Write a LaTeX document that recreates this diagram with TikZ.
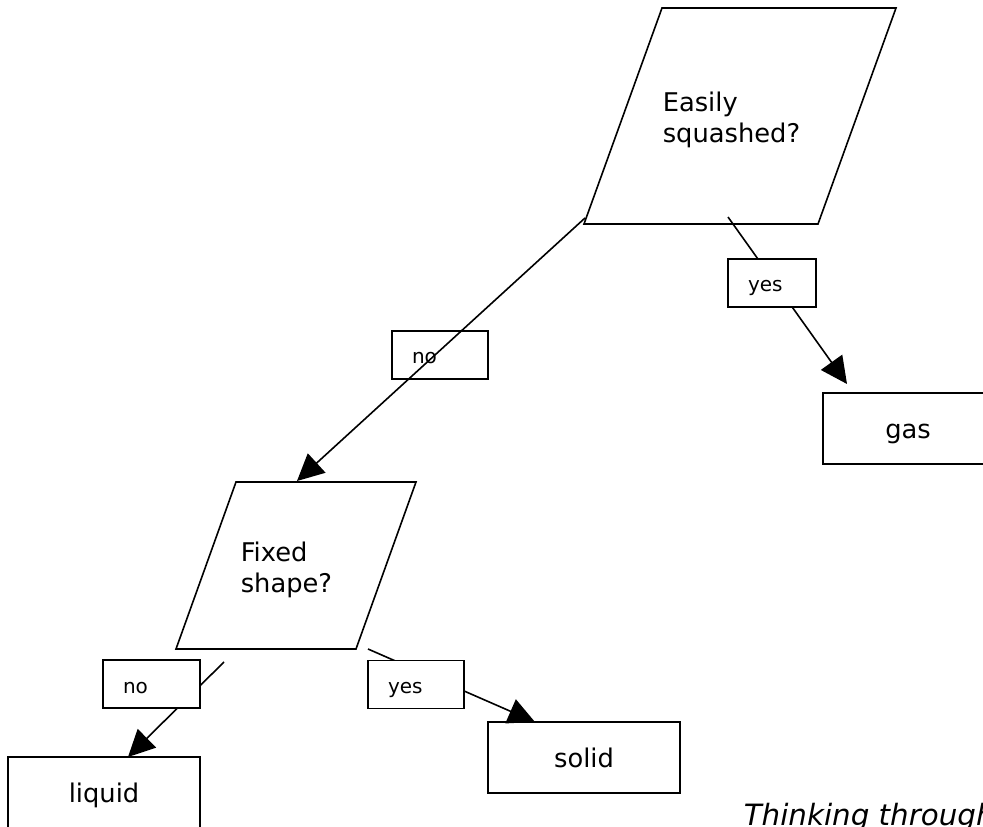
\documentclass[tikz,border=0pt]{standalone}
\usepackage{fontspec}
\setmainfont{DejaVu Sans}
\usetikzlibrary{arrows.meta}
\begin{document}
\begin{tikzpicture}[x=0.75pt,y=-0.75pt,line width=1.2pt,
  para/.style={draw,line join=miter},
  qtext/.style={anchor=base west,align=left,inner sep=0pt,font=\fontsize{19.3pt}{23.25pt}\selectfont},
  bigbox/.style={draw,fill=white,minimum width=144pt,minimum height=53.25pt,inner sep=0pt,text height=15pt,text depth=0pt,font=\fontsize{19.3pt}{23pt}\selectfont},
  lblbox/.style={draw,fill=white,minimum height=36pt,inner xsep=15pt,inner ysep=0pt,text width=42pt,align=left,text height=13.5pt,text depth=0pt,font=\fontsize{15pt}{18pt}\selectfont},
  conn/.style={-{Triangle[length=20pt,width=19.5pt]}},
]
\path[use as bounding box] (0,0) rectangle (983,827);
\clip (0,0) rectangle (983,827);

% top decision
\coordinate (qa1) at (662,8);
\coordinate (qa2) at (896,8);
\coordinate (qa3) at (818,224);
\coordinate (qa4) at (584,224);
\draw[para] (qa1) -- (qa2) -- (qa3) -- (qa4) -- cycle;
\node[qtext] (qatext) at (662,143) {Easily\\squashed?};

% second decision
\coordinate (qb1) at (236,482);
\coordinate (qb2) at (416,482);
\coordinate (qb3) at (356,649);
\coordinate (qb4) at (176,649);
\draw[para] (qb1) -- (qb2) -- (qb3) -- (qb4) -- cycle;
\node[qtext] (qbtext) at (240,592) {Fixed\\shape?};

% result boxes
\node[bigbox,minimum width=127.5pt] (gas) at (908,428.5) {gas};
\node[bigbox] (solid) at (584,757.5) {solid};
\node[bigbox] (liquid) at (104,792.5) {liquid};

% connector end points
\coordinate (sNo1) at (585,218);
\coordinate (tNo1) at (297,481);
\coordinate (sYes1) at (728,217);
\coordinate (tYes1) at (847,384);
\coordinate (sNo2) at (224,662);
\coordinate (tNo2) at (128,757);
\coordinate (sYes2) at (368,649);
\coordinate (tYes2) at (535,722);

% no label (line drawn over it)
\node[lblbox] (no1) at (440,355) {no};
\draw[conn] (sNo1) -- (tNo1);

% other connectors, labels on top
\draw[conn] (sYes1) -- (tYes1);
\node[lblbox,text width=36pt] (yes1) at (772,283) {yes};
\draw[conn] (sNo2) -- (tNo2);
\node[lblbox,text width=42.75pt] (no2) at (151.5,684) {no};
\draw[conn] (sYes2) -- (tYes2);
\node[lblbox] (yes2) at (416,684.5) {yes};

% footer text
\node[anchor=base west,inner sep=0pt,font=\fontsize{22pt}{26pt}\selectfont\itshape] (footer) at (743,825) {Thinking through};
\end{tikzpicture}
\end{document}
